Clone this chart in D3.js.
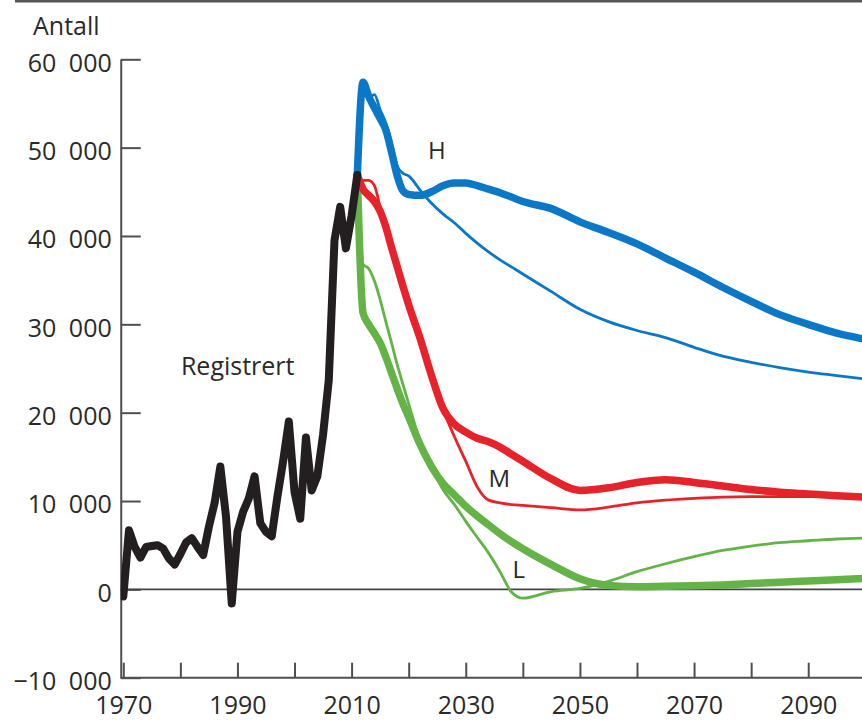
<!DOCTYPE html>
<html>
<head>
<meta charset="utf-8">
<script src="https://cdn.jsdelivr.net/npm/d3@7"></script>
<style>
  html, body { margin: 0; padding: 0; background: #fff; }
  svg { display: block; }
  text { font-family: "Open Sans", "Noto Sans", sans-serif; fill: #2a2a2a; }
</style>
</head>
<body>
<svg id="chart" width="862" height="721"></svg>
<script>
// ---- data ----
const regStartYear = 1970;
const registered = [
  -800, 6700, 4800, 3600, 4800, 4900, 5000, 4600, 3500, 2800,
  4000, 5300, 5800, 4800, 3900, 7100, 9800, 13900, 8200, -1600,
  6500, 8800, 10300, 12800, 7500, 6500, 6000, 10500, 14500, 19000,
  11000, 8000, 17200, 11200, 12800, 17500, 23700, 39500, 43300, 38600,
  42300, 46900
];
const projYears = [2011,2012,2013,2014,2015,2016,2017,2018,2019,2020,2022,2024,2026,2028,2030,2032,2034,2036,2038,2040,2045,2050,2055,2060,2065,2070,2075,2080,2085,2090,2095,2100];
const highMain = [46900,57400,55800,54500,53300,52000,49500,46800,45100,44700,44600,45000,45700,46000,46000,45700,45300,44900,44400,43900,43100,41600,40400,39100,37500,35900,34200,32600,31100,30000,29000,28300];
const highAlt  = [46900,57000,55600,56000,54300,52800,50500,47900,47100,46800,45200,43700,42500,41500,40300,39200,38200,37300,36500,35700,33700,31700,30300,29300,28500,27400,26400,25700,25100,24600,24200,23800];
const medMain  = [46900,45300,44600,43900,42800,41000,38700,36500,34300,32200,28400,24200,20500,18700,17800,17100,16700,16100,15300,14500,12500,11200,11500,12100,12400,12100,11700,11300,11000,10800,10600,10450];
const medAlt   = [46900,46300,46300,45700,43300,41200,38800,36600,34400,32200,28400,24200,20400,17300,14500,11600,10100,9800,9600,9500,9250,9000,9300,9800,10100,10300,10450,10500,10500,10500,10500,10450];
const lowMain  = [46900,31300,30000,29000,27900,26300,24500,22700,21000,19500,16400,13900,12000,10700,9400,8300,7300,6300,5400,4600,2800,1200,450,300,350,400,500,650,800,950,1100,1250];
const lowAlt   = [46900,36800,36300,34900,32800,30300,27900,25400,23200,21000,16800,13800,11300,9600,7700,5900,4100,2000,-300,-1000,-250,100,900,2000,2900,3700,4400,4900,5300,5500,5700,5800];
const yTicks = [-10000, 0, 10000, 20000, 30000, 40000, 50000, 60000];
const xTicks = [1970,1980,1990,2000,2010,2020,2030,2040,2050,2060,2070,2080,2090];
const xLabelYears = [1970,1990,2010,2030,2050,2070,2090];
const labels = [
  {text: "Registrert", year: 1980.1, value: 24300},
  {text: "H", year: 2023.4, value: 48700},
  {text: "M", year: 2034.0, value: 11600},
  {text: "L", year: 2038.2, value: 1320}
];

// ---- layout ----
const W = 862, H = 721;
const svg = d3.select("#chart");
const x = d3.scaleLinear().domain([1970, 2100]).range([123.3, 865.3]);
const y = d3.scaleLinear().domain([-10000, 60000]).range([677.7, 59.3]);
const axisColor = "#4f4f4f";
const fmt = v => d3.format(",")(v).replace(/,/g, "\u2002");

// top border line
svg.append("line").attr("x1", 15).attr("x2", W).attr("y1", 1.2).attr("y2", 1.2)
  .attr("stroke", "#555").attr("stroke-width", 2.6);

// y-axis title
svg.append("text").attr("x", 33).attr("y", 35).attr("font-size", 25).text("Antall");

const axisX0 = x(1969.55);

// y axis
const yAxis = d3.axisLeft(y).tickValues(yTicks).tickSizeInner(-20).tickSizeOuter(0)
  .tickPadding(9).tickFormat(fmt);
const gy = svg.append("g").attr("transform", `translate(${axisX0},0)`).call(yAxis);
gy.select(".domain").attr("stroke", axisColor).attr("stroke-width", 2);
gy.selectAll(".tick line").attr("stroke", axisColor).attr("stroke-width", 2);
gy.selectAll(".tick text").attr("font-size", 25).attr("dy", "0.47em")
  .attr("fill", "#2a2a2a").attr("font-family", '"Open Sans", sans-serif');

// x axis
const xAxis = d3.axisBottom(x).tickValues(xTicks).tickSizeInner(-15).tickSizeOuter(0)
  .tickPadding(18.5).tickFormat(d => xLabelYears.includes(d) ? String(d) : "");
const gx = svg.append("g").attr("transform", `translate(0,${y(-10000)})`).call(xAxis);
gx.select(".domain").remove();
gx.append("line").attr("x1", axisX0).attr("x2", W).attr("y1", 0).attr("y2", 0)
  .attr("stroke", axisColor).attr("stroke-width", 2);
gx.selectAll(".tick line").attr("stroke", axisColor).attr("stroke-width", 2);
gx.selectAll(".tick text").attr("font-size", 25)
  .attr("fill", "#2a2a2a").attr("font-family", '"Open Sans", sans-serif');

// zero line
svg.append("line").attr("x1", axisX0).attr("x2", W).attr("y1", y(0)).attr("y2", y(0))
  .attr("stroke", "#444").attr("stroke-width", 1.6);

// clip for plot
svg.append("clipPath").attr("id", "clip").append("rect")
  .attr("x", axisX0).attr("y", 0).attr("width", W - axisX0).attr("height", H);

const plot = svg.append("g").attr("clip-path", "url(#clip)");

const projLine = d3.line().x((d, i) => x(projYears[i])).y(d => y(d)).curve(d3.curveMonotoneX);
const series = [
  {vals: highAlt, color: "#0a78c6", w: 2.8},
  {vals: medAlt, color: "#e6222a", w: 2.8},
  {vals: lowAlt, color: "#64b346", w: 2.8},
  {vals: lowMain, color: "#64b346", w: 7.5},
  {vals: medMain, color: "#e6222a", w: 7.5},
  {vals: highMain, color: "#0a78c6", w: 7.5}
];
series.forEach(s => {
  plot.append("path").datum(s.vals).attr("d", projLine)
    .attr("fill", "none").attr("stroke", s.color).attr("stroke-width", s.w)
    .attr("stroke-linejoin", "round").attr("stroke-linecap", "round");
});

const regLine = d3.line().x((d, i) => x(regStartYear + i)).y(d => y(d));
plot.append("path").datum(registered).attr("d", regLine)
  .attr("fill", "none").attr("stroke", "#231f20").attr("stroke-width", 8)
  .attr("stroke-linejoin", "round").attr("stroke-linecap", "round");

// labels
labels.forEach(l => {
  svg.append("text").attr("x", x(l.year)).attr("y", y(l.value))
    .attr("font-size", l.text.length > 1 ? 25 : 24).text(l.text);
});
</script>
</body>
</html>
